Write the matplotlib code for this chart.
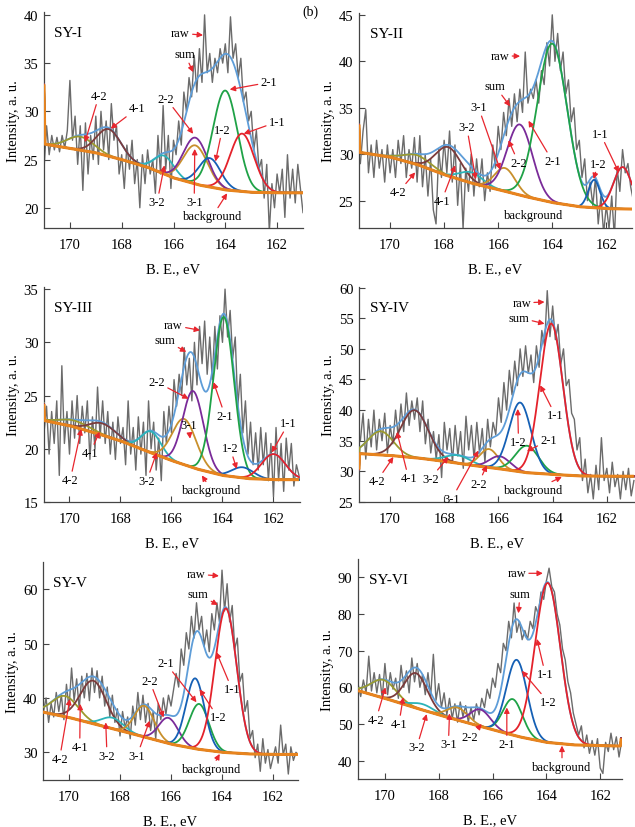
import numpy as np
import matplotlib
matplotlib.use('Agg')
import matplotlib.pyplot as plt

plt.rcParams['font.family'] = ['Liberation Serif', 'DejaVu Serif']

# ---------------- data ----------------
PANEL_NAMES = ['SY-I', 'SY-II', 'SY-III', 'SY-IV', 'SY-V', 'SY-VI']
COMPONENTS = ['4-2', '4-1', '3-2', '3-1', '2-2', '2-1', '1-2', '1-1']

# raw spectra, B.E. step 0.1 eV, starting energies below
RAW_START = [171.0, 171.1, 171.0, 171.1, 171.0, 171.0]
RAW_STEP = 0.1

RAW_I = [24, 28.5, 25.5, 27.5, 26, 27.3, 25.8, 27.5, 26.2, 28.0,
         33.2, 27, 29.5, 24.5, 28.5, 21.8, 28.8, 23.5, 27.5, 25.0,
         29.5, 24.5, 30.0, 26, 29.0, 25.0, 30.8, 27, 28.5, 23.5,
         25.5, 22.0, 26.5, 24.0, 27.0, 22.5, 25.0, 20.0, 25.5, 22.5,
         26.0, 23.5, 25.0, 21.5, 27.5, 23.5, 30.6, 24.0, 27.5, 22.0,
         27.0, 25.5, 29.0, 26.5, 32.0, 30.0, 33.5, 31.5, 35.8, 32.0,
         36.5, 33.0, 40.0, 34.0, 36.0, 33.0, 35.5, 34.0, 36.5, 35.0,
         37.0, 34.0, 39.8, 35.5, 37.0, 33.5, 35.5, 31.0, 32.0, 29.0,
         30.0, 26.0, 28.0, 24.0, 25.0, 21.0, 24.5, 17.5, 22.5, 20.0,
         23.5, 21.5, 24.0, 19.0, 25.5, 21.0, 24.0, 20.5, 24.5, 22.0, 19.5]
RAW_II = [29, 32.5, 34.8, 28, 31, 27.5, 31.5, 28.5, 30.5, 27,
          31, 28, 30.5, 27.5, 31.5, 29, 32, 27.5, 30.5, 28.5,
          31.8, 27, 32.0, 26.5, 30, 25.5, 29.5, 24.0, 22.5, 30.5,
          27.5, 31.5, 28, 32.5, 27.0, 31, 24.5, 29, 22.0, 28.5,
          26, 30, 25.5, 29.5, 26.5, 29.5, 25.0, 28.0, 26.0, 31.0,
          28.5, 33.0, 30.5, 34.5, 32.0, 36.0, 33.0, 36.5, 33.5, 37.0,
          34.5, 41.0, 35.5, 37.0, 36.0, 38.0, 35.5, 39.0, 37.5, 42.0,
          39.5, 45.0, 40.0, 43.0, 39.0, 41.0, 36.5, 38.0, 33.5, 35.0,
          30.5, 31.5, 27.5, 29.5, 25.0, 27.0, 24.5, 27.5, 22.5, 25.5,
          21.5, 24.5, 22.0, 25.5, 21.0, 28.5, 26.0, 30.5, 28.0, 29.0,
          26.5, 25.0]
RAW_III = [21.5, 24.0, 19.5, 23.5, 20.5, 24.5, 17.5, 27.8, 20.5, 23.5,
           19.5, 24.5, 21.0, 25.0, 20.5, 24.0, 21.5, 24.5, 19.0, 23.0,
           20.0, 25.8, 21.0, 24.5, 20.5, 23.5, 19.5, 22.5, 19.0, 23.0,
           20.5, 22.0, 18.5, 24.5, 19.5, 22.0, 18.0, 23.0, 19.5, 22.5,
           17.5, 24.5, 20.0, 22.5, 18.0, 21.0, 17.0, 23.5, 20.5, 24.0,
           21.5, 26.5, 24.0, 27.0, 25.0, 29.5, 26.0, 28.5, 24.5, 30.0,
           26.0, 31.5, 28.0, 32.0, 27.0, 30.5, 26.5, 31.5, 27.5, 32.5,
           30.0, 35.0, 30.5, 33.0, 28.5, 30.5, 24.0, 27.0, 21.5, 24.5,
           19.5, 22.5, 18.5, 21.5, 18.0, 22.0, 18.5, 21.5, 17.0, 20.5,
           15.5, 22.0, 17.0, 20.5, 16.0, 21.0, 18.0, 20.5, 16.5, 18.5, 17.5]
RAW_IV = [35, 39.5, 32, 38.5, 34, 40.0, 33.5, 38.5, 35, 39.5,
          33, 37.5, 34.5, 40.0, 35.5, 41.0, 36.5, 42.8, 37.5, 41.5,
          38.5, 42.0, 36.5, 41.5, 34.5, 38.5, 33.0, 36.5, 32.0, 36.0,
          29.0, 38.0, 33.5, 37.0, 31.5, 37.5, 32.5, 36.5, 30.5, 39.0,
          33.5, 37.5, 32.0, 38.0, 33.0, 37.0, 31.5, 38.5, 34.0, 38.0,
          36.0, 42.0, 38.0, 44.5, 40.0, 46.5, 42.5, 48.0, 44.0, 50.0,
          45.5, 50.5, 46.0, 49.0, 44.5, 50.5, 47.0, 53.0, 50.5, 59.5,
          52.0, 57.0, 51.5, 54.0, 47.5, 50.0, 44.0, 45.0, 39.5, 38.5,
          33.5, 35.5, 28.5, 32.0, 26.5, 29.5, 25.5, 31.0, 27.0, 35.5,
          28.5, 30.5, 26.5, 31.5, 27.5, 29.5, 25.5, 30.0, 27.0, 30.5,
          26.0, 28.5]
RAW_V = [37.5, 40.0, 35.5, 39.0, 36.5, 41.0, 37.5, 40.5, 36.0, 42.5,
         38.0, 45.5, 39.5, 43.5, 38.0, 44.0, 40.0, 44.5, 39.5, 45.5,
         41.0, 45.0, 40.0, 44.0, 38.5, 42.0, 36.5, 40.5, 35.5, 38.0,
         33.0, 37.5, 34.5, 36.5, 32.5, 38.5, 35.0, 41.0, 36.0, 40.5,
         35.5, 39.0, 34.0, 37.5, 32.5, 39.0, 36.0, 40.0, 37.0, 40.5,
         38.5, 41.5, 44.5, 42.0, 49.0, 46.0, 52.0, 49.0, 55.0, 51.0,
         57.5, 52.5, 55.0, 49.5, 52.5, 48.5, 55.5, 52.5, 57.5, 54.0,
         63.5, 56.0, 61.0, 54.0, 57.0, 49.0, 51.0, 43.0, 44.5, 37.5,
         39.5, 32.5, 34.0, 29.0, 31.5, 26.5, 32.5, 28.0, 30.5, 27.0,
         29.0, 31.0, 28.0, 35.0, 29.5, 31.5, 26.0, 31.0, 28.5, 30.0, 29.5]
RAW_VI = [61.0, 57.5, 62.0, 58.5, 68.5, 59.0, 64.0, 58.5, 63.5, 57.0,
          66.5, 58.0, 64.0, 59.5, 62.5, 57.0, 66.0, 60.0, 64.5, 58.5,
          68.0, 61.5, 66.5, 60.0, 63.5, 58.0, 64.0, 57.5, 69.0, 56.5,
          61.0, 54.5, 58.5, 52.5, 57.0, 51.5, 55.5, 50.5, 56.0, 52.0,
          55.0, 50.5, 54.5, 51.0, 55.5, 52.5, 57.0, 54.5, 59.5, 57.0,
          62.5, 60.0, 66.5, 64.0, 72.0, 70.0, 78.0, 73.5, 83.0, 75.0,
          78.0, 73.0, 75.5, 73.0, 78.0, 76.0, 82.0, 80.0, 86.0, 84.0,
          89.0, 92.5, 87.5, 86.0, 80.0, 77.0, 70.5, 67.5, 61.5, 58.5,
          53.0, 50.0, 47.0, 49.5, 43.5, 47.0, 42.0, 45.5, 41.5, 46.0,
          38.0, 36.5, 45.0, 42.5, 47.5, 43.0, 46.5, 41.0, 45.5]

# background (B.E., intensity)
BG_E_I = [171.0, 170.97, 170, 169, 168, 167, 166, 165, 164, 163, 162, 161]
BG_V_I = [32.8, 26.6, 26.15, 25.7, 25.0, 24.2, 23.1, 22.35, 21.85, 21.6, 21.55, 21.55]
BG_E_II = [171.15, 171.12, 170, 169, 168, 167, 166, 165, 164, 163, 162, 161.05]
BG_V_II = [33.2, 30.2, 29.7, 28.9, 27.8, 26.9, 26.2, 25.45, 24.8, 24.35, 24.15, 24.1]
BG_E_III = [171.0, 170.98, 170, 169, 168, 167, 166, 165, 164, 163, 162, 161]
BG_V_III = [24.2, 22.65, 22.17, 21.5, 20.75, 19.8, 18.9, 18.1, 17.5, 17.2, 17.1, 17.1]
BG_E_IV = [171.15, 171.13, 170, 169, 168, 167, 166, 165, 164, 163, 162, 161]
BG_V_IV = [30.3, 32.9, 32.6, 32.2, 31.65, 31.0, 30.45, 29.8, 29.5, 29.25, 29.2, 29.2]
BG_E_V = [171.03, 170, 169, 168, 167, 166, 165, 164, 163, 162, 161]
BG_V_V = [37.4, 36.4, 35.2, 34.0, 32.75, 31.5, 30.6, 30.0, 29.7, 29.6, 29.6]
BG_E_VI = [171.0, 170, 169, 168, 167, 166, 165, 164, 163, 162, 161.25, 161.22]
BG_V_VI = [59.1, 57.0, 54.7, 52.5, 50.45, 48.45, 46.5, 45.0, 44.3, 44.1, 44.0, 46.1]

# fitted components, in COMPONENTS order: centre (eV), height above background, FWHM (eV)
CENTER_I = [169.6, 168.5, 166.35, 165.15, 165.15, 164.0, 164.6, 163.35]
HEIGHT_I = [1.4, 2.8, 1.9, 4.0, 4.8, 10.3, 3.0, 6.0]
FWHM_I = [1.2, 1.1, 0.9, 1.1, 1.1, 1.1, 1.0, 1.1]
CENTER_II = [169.0, 167.85, 167.0, 165.75, 165.2, 164.0, 162.45, 161.4]
HEIGHT_II = [1.0, 3.1, 1.15, 2.5, 7.6, 17.1, 3.0, 4.5]
FWHM_II = [1.2, 1.1, 1.0, 0.9, 1.1, 1.3, 0.5, 0.8]
CENTER_III = [169.8, 168.7, 166.8, 165.5, 165.15, 163.95, 163.2, 162.0]
HEIGHT_III = [0.6, 1.1, 2.0, 4.3, 7.2, 14.9, 1.0, 2.4]
FWHM_III = [1.4, 1.2, 0.9, 1.1, 0.95, 0.95, 1.0, 1.1]
CENTER_IV = [170.35, 169.1, 167.5, 166.35, 165.95, 164.95, 165.2, 164.05]
HEIGHT_IV = [3.85, 7.75, 1.3, 3.0, 2.05, 4.4, 11.3, 24.6]
FWHM_IV = [1.1, 1.2, 1.1, 0.8, 0.9, 1.0, 0.95, 1.0]
CENTER_V = [170.15, 169.05, 168.3, 167.05, 166.1, 164.9, 165.05, 163.85]
HEIGHT_V = [3.8, 7.9, 2.0, 5.75, 4.7, 8.35, 12.95, 26.5]
FWHM_V = [1.2, 1.2, 1.0, 0.9, 0.9, 0.9, 0.85, 1.0]
CENTER_VI = [170.05, 168.85, 168.6, 167.3, 166.45, 165.25, 165.1, 163.95]
HEIGHT_VI = [4.9, 9.5, 1.6, 3.4, 4.6, 9.8, 20.8, 43.5]
FWHM_VI = [1.1, 1.0, 1.0, 0.9, 0.9, 0.85, 0.9, 1.1]

Y_TICKS = [[20, 25, 30, 35, 40], [25, 30, 35, 40, 45], [15, 20, 25, 30, 35],
           [25, 30, 35, 40, 45, 50, 55, 60], [30, 40, 50, 60], [40, 50, 60, 70, 80, 90]]
X_TICKS = [170, 168, 166, 164, 162]

# ---------------- layout ----------------
W, H = 635, 828
AX_PX = [(44, 13, 303, 229), (359, 14, 632, 229), (44, 288, 300, 503),
         (359, 288, 635, 503), (43, 563, 298, 781), (358, 560, 622, 780)]
XLIMS = [(171.0, 161.0), (171.15, 161.05), (171.0, 160.96), (171.15, 160.96),
         (171.02, 161.02), (171.0, 161.19)]
YLIMS = [(17.9, 40.3), (22.06, 45.2), (15, 35.2), (25, 60.1), (24.9, 65), (35, 95)]

COLORS = {'4-2': '#9C9A2E', '4-1': '#7B3B3B', '3-2': '#2BB3B8', '3-1': '#C8902C',
          '2-2': '#7A2B99', '2-1': '#1FA247', '1-2': '#1560B5', '1-1': '#E4222B'}
RAW_C = '#6B6B6B'
SUM_C = '#5E9DD8'
BG_C = '#E8841E'
ARROW_C = '#E8262E'

# annotations: (text, text position, arrow head)
ANN = [
    [('raw', (165.73, 38.1), (164.86, 37.9)), ('sum', (165.56, 35.9), (165.24, 34.06)),
     ('2-2', (166.28, 31.3), (165.24, 27.67)), ('2-1', (162.32, 33.0), (163.83, 32.26)),
     ('1-1', (162.0, 28.9), (163.29, 27.67)), ('1-2', (164.12, 28.1), (164.38, 24.8)),
     ('4-2', (168.88, 31.6), (169.42, 26.8)), ('4-1', (167.4, 30.3), (168.43, 28.2)),
     ('3-2', (166.63, 20.6), (166.35, 24.4)), ('3-1', (165.2, 20.6), (165.18, 26.1)),
     ('background', (164.5, 19.1), (163.93, 21.5))],
    [('raw', (165.93, 40.6), (165.19, 40.55)), ('sum', (166.11, 37.3), (165.56, 35.16)),
     ('3-1', (166.73, 35.05), (165.93, 28.35)), ('3-2', (167.16, 32.9), (166.83, 27.3)),
     ('2-2', (165.25, 29.1), (165.62, 31.5)), ('2-1', (164.0, 29.3), (164.88, 33.6)),
     ('1-1', (162.22, 32.2), (161.54, 28.05)), ('1-2', (162.3, 29.0), (162.47, 27.33)),
     ('4-2', (169.69, 25.9), (169.07, 28.05)), ('4-1', (168.09, 25.0), (167.59, 28.8)),
     ('background', (164.69, 23.45), None)],
    [('raw', (165.92, 31.6), (164.88, 31.13)), ('sum', (166.25, 30.2), (165.42, 29.1)),
     ('2-2', (166.58, 26.26), (165.33, 24.7)), ('2-1', (163.9, 23.1), (164.35, 26.26)),
     ('3-1', (165.33, 22.2), (165.27, 20.95)), ('3-2', (166.97, 16.98), (166.58, 19.65)),
     ('4-2', (169.97, 17.07), (169.54, 21.85)), ('4-1', (169.19, 19.6), (168.82, 21.6)),
     ('1-2', (163.7, 20.06), (163.44, 18.1)), ('1-1', (161.41, 22.4), (162.07, 19.65)),
     ('background', (164.42, 16.1), (164.81, 17.5))],
    [('raw', (165.14, 57.5), (164.3, 57.65)), ('sum', (165.24, 55.1), (164.3, 54.1)),
     ('1-1', (163.9, 39.15), (164.46, 44.05)), ('1-2', (165.26, 34.8), (165.29, 40.2)),
     ('2-1', (164.15, 35.05), (164.95, 33.3)), ('2-2', (166.74, 28.0), (166.43, 31.0)),
     ('3-1', (167.72, 25.55), (166.74, 33.4)), ('3-2', (168.52, 28.8), (167.85, 32.35)),
     ('4-1', (169.32, 28.9), (169.75, 36.45)), ('4-2', (170.49, 28.4), (169.88, 32.35)),
     ('background', (164.71, 26.9), (163.66, 29.1))],
    [('raw', (165.01, 62.75), (164.12, 62.45)), ('sum', (164.94, 59.1), (164.16, 57.1)),
     ('2-1', (166.21, 46.4), (165.0, 39.2)), ('2-2', (166.84, 43.15), (166.29, 36.4)),
     ('1-1', (163.61, 41.6), (164.22, 48.4)), ('1-2', (164.16, 36.4), (164.88, 41.6)),
     ('3-1', (167.33, 29.4), (166.84, 35.8)), ('3-2', (168.51, 29.4), (168.56, 35.5)),
     ('4-1', (169.58, 31.0), (169.56, 38.9)), ('4-2', (170.37, 28.8), (169.97, 39.8)),
     ('background', (164.42, 26.9), (164.09, 29.7))],
    [('raw', (165.1, 91.1), (164.13, 91.1)), ('sum', (164.98, 85.45), (165.04, 80.2)),
     ('1-1', (164.04, 63.6), (164.35, 73.2)), ('1-2', (163.92, 55.9), (164.91, 64.5)),
     ('2-1', (165.47, 44.5), (165.47, 54.5)), ('2-2', (166.84, 46.4), (166.4, 50.0)),
     ('3-1', (167.64, 44.5), (167.6, 52.9)), ('3-2', (168.82, 43.6), (168.45, 52.7)),
     ('4-2', (170.33, 51.2), (169.98, 60.0)), ('4-1', (169.48, 50.0), (169.32, 57.3)),
     ('background', (163.42, 38.4), (163.42, 44.1))],
]

RAWS = [RAW_I, RAW_II, RAW_III, RAW_IV, RAW_V, RAW_VI]
BG_ES = [BG_E_I, BG_E_II, BG_E_III, BG_E_IV, BG_E_V, BG_E_VI]
BG_VS = [BG_V_I, BG_V_II, BG_V_III, BG_V_IV, BG_V_V, BG_V_VI]
CENTERS = [CENTER_I, CENTER_II, CENTER_III, CENTER_IV, CENTER_V, CENTER_VI]
HEIGHTS = [HEIGHT_I, HEIGHT_II, HEIGHT_III, HEIGHT_IV, HEIGHT_V, HEIGHT_VI]
FWHMS = [FWHM_I, FWHM_II, FWHM_III, FWHM_IV, FWHM_V, FWHM_VI]


def peak(E, c, h, fwhm):
    s = fwhm / 2.3548
    return h * np.exp(-0.5 * ((E - c) / s) ** 2)


fig = plt.figure(figsize=(W / 100, H / 100), dpi=100)

for i in range(6):
    x0, y0, x1, y1 = AX_PX[i]
    ax = fig.add_axes([x0 / W, 1 - y1 / H, (x1 - x0) / W, (y1 - y0) / H])
    xl, xr = XLIMS[i]

    raw = np.array(RAWS[i])
    E_raw = RAW_START[i] - RAW_STEP * np.arange(len(raw))
    ax.plot(E_raw, raw, color=RAW_C, lw=1.0, zorder=2)

    bgE = np.array(BG_ES[i])
    bgV = np.array(BG_VS[i])
    Ef = np.linspace(bgE.max(), bgE.min(), 1200)
    bgf = np.interp(Ef, bgE[::-1], bgV[::-1])

    total = bgf.copy()
    comps = []
    for name, c, h, fw in zip(COMPONENTS, CENTERS[i], HEIGHTS[i], FWHMS[i]):
        p = peak(Ef, c, h, fw)
        total += p
        comps.append((name, p))
    ax.plot(Ef, total, color=SUM_C, lw=1.3, zorder=3)
    for name, p in comps:
        ax.plot(Ef, bgf + p, color=COLORS[name], lw=1.3, zorder=4)
    ax.plot(Ef, bgf, color=BG_C, lw=2.2, zorder=5, solid_capstyle='butt')

    for txt, tpos, head in ANN[i]:
        if head is None:
            ax.text(tpos[0], tpos[1], txt, fontsize=9, ha='center', va='center', zorder=6)
        else:
            ax.annotate(txt, xy=head, xytext=tpos, fontsize=9, ha='center', va='center',
                        zorder=6,
                        arrowprops=dict(arrowstyle='-|>', color=ARROW_C, lw=0.9,
                                        mutation_scale=8, shrinkA=0, shrinkB=0))

    ax.text(0.04, 0.905, PANEL_NAMES[i], transform=ax.transAxes, fontsize=11,
            ha='left', va='center')

    ax.set_xlim(xl, xr)
    ax.set_ylim(*YLIMS[i])
    ax.set_xticks(X_TICKS)
    ax.set_yticks(Y_TICKS[i])
    ax.tick_params(direction='in', length=4, width=0.8, labelsize=10.5, color='#444444')
    ax.tick_params(axis='x', pad=7)
    ax.tick_params(axis='y', pad=4)
    for s in ['top', 'right']:
        ax.spines[s].set_visible(False)
    for s in ['left', 'bottom']:
        ax.spines[s].set_color('#444444')
        ax.spines[s].set_linewidth(0.9)
    ax.set_xlabel('B. E., eV', fontsize=10.5, labelpad=8)
    ax.set_ylabel('Intensity, a. u.', fontsize=10.5, labelpad=3)

fig.text(310 / W, 1 - 12 / H, '(b)', fontsize=10, ha='center', va='center')

fig.savefig('out.png', dpi=100)
